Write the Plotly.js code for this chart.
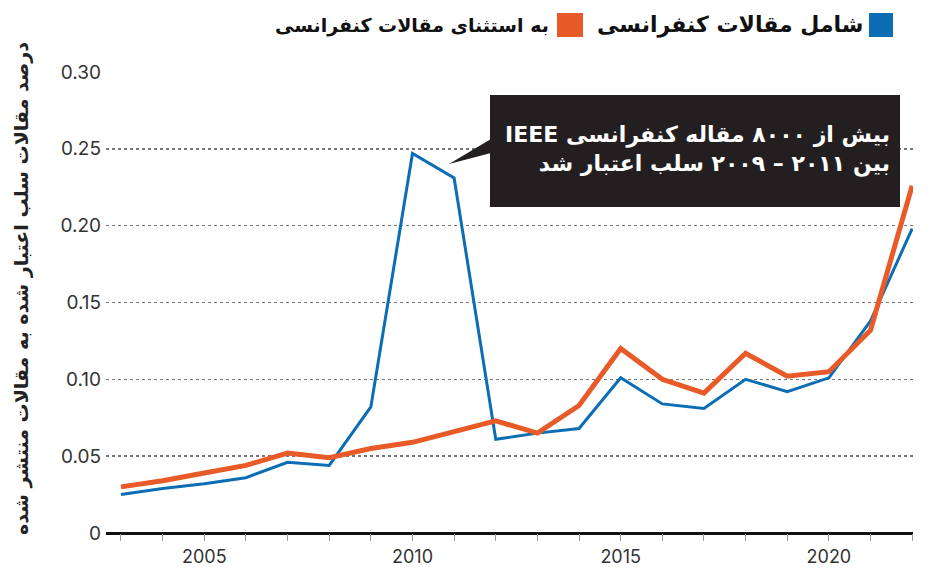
<!DOCTYPE html>
<html>
<head>
<meta charset="utf-8">
<script src="https://cdn.plot.ly/plotly-3.0.1.min.js"></script>
<style>html,body{margin:0;padding:0;background:#fff;}#chart{width:932px;height:570px;}</style>
</head>
<body>
<div id="chart"></div>
<script>
// ---- data ----
const years = [2003,2004,2005,2006,2007,2008,2009,2010,2011,2012,2013,2014,2015,2016,2017,2018,2019,2020,2021,2022];
const withConference = [0.025,0.029,0.032,0.036,0.046,0.044,0.082,0.247,0.231,0.061,0.065,0.068,0.101,0.084,0.081,0.100,0.092,0.101,0.138,0.198];
const withoutConference = [0.030,0.034,0.039,0.044,0.052,0.049,0.055,0.059,0.066,0.073,0.065,0.083,0.120,0.100,0.091,0.117,0.102,0.105,0.132,0.226];
const seriesNames = ['شامل مقالات کنفرانسی', 'به استثنای مقالات کنفرانسی'];
const yTickVals = [0, 0.05, 0.10, 0.15, 0.20, 0.25, 0.30];
const yTickText = ['0', '0.05', '0.10', '0.15', '0.20', '0.25', '0.30'];
const xTickVals = [2005, 2010, 2015, 2020];
const yTitle = 'درصد مقالات سلب اعتبار شده به مقالات منتشر شده';
const noteLines = ['بیش از ۸۰۰۰ مقاله کنفرانسی IEEE', 'بین ۲۰۱۱ – ۲۰۰۹ سلب اعتبار شد'];

// ---- layout geometry (pixels) ----
const W = 932, H = 570;
const L = 106, R = 913, T = 72, B = 533;
const px = x => (x - L) / (R - L);
const py = y => (B - y) / (B - T);

const BLUE = '#0b6db4', ORANGE = '#e85a27';
const FA = '"DejaVu Sans", sans-serif';
const NUMF = 'Inter, "Open Sans", sans-serif';

const traces = [
  {x: years, y: withConference, type: 'scatter', mode: 'lines', name: seriesNames[0],
   line: {color: BLUE, width: 3, shape: 'linear'}, hoverinfo: 'skip'},
  {x: years, y: withoutConference, type: 'scatter', mode: 'lines', name: seriesNames[1],
   line: {color: ORANGE, width: 5, shape: 'linear'}, hoverinfo: 'skip'}
];

const noteText = noteLines.map(s => '<b>\u202B' + s + '\u202C</b>').join('<br>');

const layout = {
  width: W, height: H,
  margin: {l: L, r: W - R, t: T, b: H - B, pad: 0},
  paper_bgcolor: '#fff', plot_bgcolor: '#fff',
  showlegend: false,
  xaxis: {
    range: [2002.64, 2022.02],
    tickvals: xTickVals, ticktext: xTickVals.map(String),
    ticks: 'outside', ticklen: 7, tickwidth: 1, tickcolor: '#999',
    minor: {dtick: 1, tick0: 2003, ticks: 'outside', ticklen: 7, tickwidth: 1, tickcolor: '#999', showgrid: false},
    showgrid: false, zeroline: false, showline: false,
    tickfont: {family: NUMF, size: 18, color: '#333'}
  },
  yaxis: {
    range: [0, 0.30],
    tickvals: yTickVals, ticktext: yTickText,
    ticks: '', showline: false, zeroline: true, zerolinecolor: '#111', zerolinewidth: 3,
    showgrid: true, gridcolor: '#777', gridwidth: 1.6, griddash: 'dot',
    tickfont: {family: NUMF, size: 19, color: '#333'},
    ticklabelstandoff: 4
  },
  shapes: [
    // legend swatches
    {type: 'rect', xref: 'paper', yref: 'paper', x0: px(869), x1: px(893), y0: py(37), y1: py(13), fillcolor: BLUE, line: {width: 0}},
    {type: 'rect', xref: 'paper', yref: 'paper', x0: px(557), x1: px(583), y0: py(37), y1: py(13), fillcolor: ORANGE, line: {width: 0}},
    // callout box
    {type: 'rect', xref: 'paper', yref: 'paper', x0: px(490), x1: px(900), y0: py(207), y1: py(95), fillcolor: '#231f20', line: {width: 0}, layer: 'above'},
    {type: 'path', xref: 'paper', yref: 'paper', layer: 'above',
     path: `M ${px(491)} ${py(139)} L ${px(491)} ${py(153)} L ${px(449)} ${py(164)} Z`,
     fillcolor: '#231f20', line: {width: 0}}
  ],
  annotations: [
    {xref: 'paper', yref: 'paper', x: px(865), y: py(25), xanchor: 'right', yanchor: 'middle',
     text: '<b>' + seriesNames[0] + '</b>', showarrow: false, font: {family: FA, size: 22, color: '#111'}},
    {xref: 'paper', yref: 'paper', x: px(551), y: py(25), xanchor: 'right', yanchor: 'middle',
     text: '<b>' + seriesNames[1] + '</b>', showarrow: false, font: {family: FA, size: 19, color: '#111'}},
    {xref: 'paper', yref: 'paper', x: px(892), y: py(149), xanchor: 'right', yanchor: 'middle', align: 'right',
     text: noteText, showarrow: false, font: {family: FA, size: 22, color: '#fff'}},
    {xref: 'paper', yref: 'paper', x: px(21), y: py(289), xanchor: 'center', yanchor: 'middle', textangle: -90,
     text: '<b>' + yTitle + '</b>', showarrow: false, font: {family: FA, size: 19, color: '#222'}}
  ]
};

Plotly.newPlot('chart', traces, layout, {displayModeBar: false, staticPlot: true});
</script>
</body>
</html>
